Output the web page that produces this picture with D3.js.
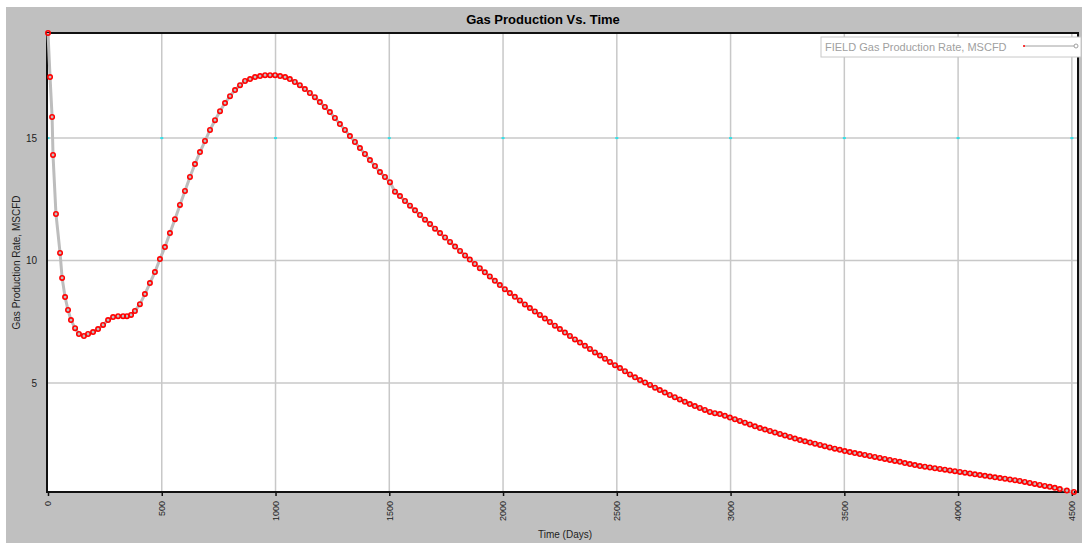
<!DOCTYPE html>
<html lang="en">
<head>
    <meta charset="UTF-8">
    <script src="https://d3js.org/d3.v7.min.js"></script>
    <title>Gas Production Vs. Time</title>
    <style>
        body { margin: 0; background: white; }
        svg { display: block; font-family: "Liberation Sans", Arial, sans-serif; }
        .grid line { stroke: #c8c8c8; stroke-width: 1.5px; }
    </style>
</head>
<body>
    <div id="chart"></div>
    <script>
        // time steps (days)
        const days = [0, 9, 18, 22, 35, 53, 62, 75, 88, 101, 119, 136, 158, 176, 198, 220, 242, 264, 286, 308,
            330, 347, 365, 382, 404, 426, 448, 470, 492, 514, 536, 558, 580, 602, 624, 646, 668, 690, 712, 734,
            756, 778, 800, 822, 844, 866, 888, 910, 932, 954, 976, 998, 1020, 1042, 1063, 1085, 1107, 1129, 1151, 1173,
            1195, 1217, 1239, 1261, 1283, 1305, 1327, 1349, 1371, 1393, 1415, 1437, 1459, 1481, 1503,
            1525, 1547, 1569, 1591, 1613, 1635, 1657, 1679, 1701, 1723, 1745, 1767, 1789, 1811, 1833, 1854, 1876, 1898, 1920, 1942,
            1964, 1986, 2008, 2030, 2052, 2074, 2096, 2118, 2140, 2162, 2184, 2206, 2228, 2250, 2272, 2294, 2316, 2338, 2360, 2382,
            2404, 2426, 2448, 2470, 2492, 2514, 2536, 2558, 2580, 2602, 2624, 2646, 2668, 2689, 2711, 2733, 2755, 2777, 2799, 2821,
            2843, 2865, 2887, 2909, 2931, 2953, 2975, 2997, 3019, 3041, 3063, 3085, 3107, 3129, 3151, 3173, 3195, 3217, 3239, 3261,
            3283, 3305, 3327, 3349, 3371, 3393, 3414, 3436, 3458, 3480, 3502, 3524, 3546, 3568, 3590, 3612, 3634, 3656, 3678, 3700,
            3722, 3744, 3766, 3788, 3810, 3832, 3854, 3876, 3898, 3920, 3942, 3964, 3986, 4008, 4030, 4052, 4074, 4096, 4118, 4140,
            4162, 4184, 4206, 4228, 4250, 4271, 4293, 4315, 4337, 4359, 4381, 4403, 4425, 4447, 4478, 4509];

        // FIELD gas production rate
        const gasRate = [19.29, 17.49, 15.86, 14.31, 11.90, 10.31, 9.29, 8.51, 7.98, 7.57, 7.24, 7.00, 6.92, 7.00, 7.08, 7.20, 7.37, 7.57, 7.69, 7.73,
            7.73, 7.73, 7.78, 7.94, 8.22, 8.63, 9.08, 9.53, 10.06, 10.55, 11.12, 11.69, 12.27, 12.84, 13.41, 13.94, 14.43, 14.88, 15.33, 15.73,
            16.10, 16.43, 16.71, 16.96, 17.16, 17.33, 17.41, 17.49, 17.53, 17.57, 17.57, 17.57, 17.53, 17.49, 17.41, 17.29, 17.16, 17.00, 16.84, 16.67,
            16.47, 16.27, 16.06, 15.82, 15.57, 15.33, 15.08, 14.84, 14.59, 14.35, 14.10, 13.86, 13.61, 13.41, 13.20,
            12.81, 12.63, 12.43, 12.24, 12.05, 11.86, 11.67, 11.49, 11.30, 11.12, 10.94, 10.76, 10.57, 10.39, 10.21, 10.04, 9.86, 9.69, 9.52, 9.35,
            9.17, 9.00, 8.83, 8.67, 8.52, 8.37, 8.21, 8.06, 7.92, 7.78, 7.63, 7.49, 7.34, 7.20, 7.06, 6.92, 6.78, 6.65, 6.52, 6.39,
            6.25, 6.12, 5.99, 5.86, 5.73, 5.61, 5.48, 5.35, 5.23, 5.12, 5.02, 4.92, 4.81, 4.71, 4.61, 4.51, 4.42, 4.33, 4.23, 4.14,
            4.06, 3.98, 3.90, 3.82, 3.77, 3.73, 3.66, 3.59, 3.52, 3.45, 3.38, 3.31, 3.23, 3.16, 3.10, 3.04, 2.98, 2.92, 2.86, 2.80,
            2.73, 2.67, 2.62, 2.57, 2.52, 2.47, 2.42, 2.37, 2.32, 2.27, 2.22, 2.18, 2.14, 2.10, 2.06, 2.02, 1.98, 1.94, 1.90, 1.86,
            1.82, 1.78, 1.73, 1.69, 1.65, 1.61, 1.58, 1.55, 1.52, 1.49, 1.46, 1.43, 1.40, 1.37, 1.34, 1.31, 1.27, 1.24, 1.21, 1.18,
            1.15, 1.12, 1.09, 1.06, 1.03, 1.00, 0.96, 0.92, 0.88, 0.84, 0.80, 0.76, 0.72, 0.67, 0.61, 0.55];

        const xTicks = [0, 500, 1000, 1500, 2000, 2500, 3000, 3500, 4000, 4500];
        const yTicks = [5, 10, 15];

        const chartTitle = "Gas Production Vs. Time";
        const xTitle = "Time (Days)";
        const yTitle = "Gas Production Rate, MSCFD";
        const legendLabel = "FIELD Gas Production Rate, MSCFD";

        const width = 1086, height = 543;
        const margin = { top: 33, right: 8, bottom: 51, left: 47 };

        const svg = d3.select("#chart").append("svg")
            .attr("width", width)
            .attr("height", height);

        // grey panel
        svg.append("rect")
            .attr("x", 6).attr("y", 7)
            .attr("width", 1076).attr("height", height - 7)
            .attr("fill", "#c0c0c0");

        const x = d3.scaleLinear()
            .domain([0, 4527])
            .range([margin.left + 1, width - margin.right]);
        const y = d3.scaleLinear()
            .domain(d3.extent(gasRate))
            .range([height - margin.bottom, margin.top]);

        const plotW = width - margin.right - margin.left;
        const plotH = height - margin.bottom - margin.top;

        svg.append("rect")
            .attr("x", margin.left).attr("y", margin.top)
            .attr("width", plotW).attr("height", plotH)
            .attr("fill", "white");

        // grid
        const grid = svg.append("g").attr("class", "grid");
        grid.selectAll(".vx")
            .data(xTicks.slice(1))
            .enter().append("line")
            .attr("x1", d => x(d)).attr("x2", d => x(d))
            .attr("y1", margin.top).attr("y2", height - margin.bottom);
        grid.selectAll(".hy")
            .data(yTicks)
            .enter().append("line")
            .attr("x1", margin.left).attr("x2", width - margin.right)
            .attr("y1", d => y(d)).attr("y2", d => y(d));

        // little cyan marks where the top grid row meets the columns
        svg.append("g").selectAll("rect")
            .data(xTicks)
            .enter().append("rect")
            .attr("x", d => x(d) - 1.5).attr("y", y(15) - 1)
            .attr("width", 3).attr("height", 2)
            .attr("fill", "#33e0e8");

        // frame
        svg.append("rect")
            .attr("x", margin.left).attr("y", margin.top)
            .attr("width", plotW).attr("height", plotH)
            .attr("fill", "none")
            .attr("stroke", "#111")
            .attr("stroke-width", 2);

        // axes
        const xAxis = svg.append("g")
            .attr("transform", `translate(0,${height - margin.bottom})`)
            .call(d3.axisBottom(x).tickValues(xTicks).tickSize(4).tickFormat(d3.format("d")));
        xAxis.select(".domain").remove();
        xAxis.selectAll(".tick line").attr("stroke", "#111").attr("stroke-width", 1.5);
        xAxis.selectAll(".tick text")
            .attr("transform", "rotate(-90)")
            .attr("text-anchor", "end")
            .attr("x", -9).attr("y", 0).attr("dy", "0.32em")
            .attr("font-size", 9)
            .attr("fill", "#222");

        const yAxis = svg.append("g")
            .attr("transform", `translate(${margin.left},0)`)
            .call(d3.axisLeft(y).tickValues(yTicks).tickSize(0).tickPadding(10));
        yAxis.select(".domain").remove();
        yAxis.selectAll(".tick text")
            .attr("font-size", 10)
            .attr("fill", "#222");

        // titles
        svg.append("text")
            .attr("x", width / 2).attr("y", 24)
            .attr("text-anchor", "middle")
            .attr("font-size", 13).attr("font-weight", "bold")
            .text(chartTitle);

        svg.append("text")
            .attr("x", 565).attr("y", 538)
            .attr("text-anchor", "middle")
            .attr("font-size", 10).attr("fill", "#222")
            .text(xTitle);

        svg.append("text")
            .attr("transform", `translate(20,${(margin.top + height - margin.bottom) / 2}) rotate(-90)`)
            .attr("text-anchor", "middle")
            .attr("font-size", 10).attr("fill", "#222")
            .text(yTitle);

        // series
        const points = days.map((d, i) => ({ t: d, q: gasRate[i] }));
        const line = d3.line().x(d => x(d.t)).y(d => y(d.q));

        svg.append("path")
            .datum(points)
            .attr("d", line)
            .attr("fill", "none")
            .attr("stroke", "#bdbdbd")
            .attr("stroke-width", 3);

        svg.append("g").selectAll("circle")
            .data(points)
            .enter().append("circle")
            .attr("cx", d => x(d.t))
            .attr("cy", d => y(d.q))
            .attr("r", 2.2)
            .attr("fill", "none")
            .attr("stroke", "#ff0000")
            .attr("stroke-width", 1.6);

        // legend
        const lg = svg.append("g");
        lg.append("rect")
            .attr("x", 821).attr("y", 37)
            .attr("width", 260).attr("height", 20)
            .attr("fill", "white")
            .attr("stroke", "#c8c8c8");
        lg.append("text")
            .attr("x", 825).attr("y", 51)
            .attr("font-size", 11).attr("fill", "#a0a0a0")
            .text(legendLabel);
        lg.append("line")
            .attr("x1", 1024).attr("x2", 1075)
            .attr("y1", 46).attr("y2", 46)
            .attr("stroke", "#a0a0a0");
        lg.append("circle")
            .attr("cx", 1024).attr("cy", 46).attr("r", 1)
            .attr("fill", "red");
        lg.append("circle")
            .attr("cx", 1076).attr("cy", 46).attr("r", 2)
            .attr("fill", "white").attr("stroke", "#a0a0a0");
    </script>
</body>
</html>
